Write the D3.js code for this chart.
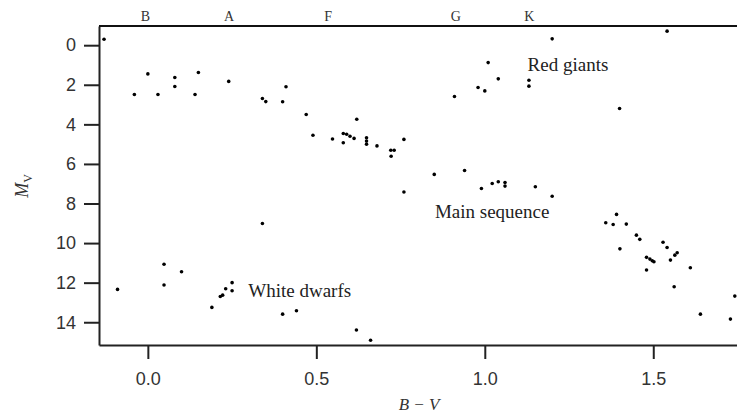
<!DOCTYPE html>
<html>
<head>
<meta charset="utf-8">
<script src="https://cdn.jsdelivr.net/npm/d3@7"></script>
<style>
	body { margin: 0; background: #fff; }
	svg { display: block; }
</style>
</head>
<body>
<div id="chart"></div>
<script>
// star colour index (B-V) and absolute magnitude (Mv)
const bvValues = [-0.13, 0.00, -0.04, 0.03, 0.08, 0.08, 0.15, 0.14, 0.24, 0.34,
	0.35, 0.40, 0.41, 0.47, 0.62, 0.49, 0.548, 0.58, 0.59, 0.60,
	0.612, 0.58, 0.649, 0.649, 0.649, 0.68, 0.721, 0.731, 0.722, 0.76,
	0.76, 0.85, 0.94, 0.99, 1.022, 1.04, 1.06, 1.06, 1.15, 1.20,
	0.91, 0.98, 1.00, 1.01, 1.04, 1.20, 1.131, 1.131, 1.541, 1.40,
	0.34, 1.391, 1.359, 1.381, 1.42, 1.401, 1.45, 1.46, 1.529, 1.541,
	1.571, 1.564, 1.551, 1.48, 1.49, 1.497, 1.502, 1.48, 1.61, 1.562,
	1.742, 1.64, 1.729,
	-0.09, 0.048, 0.048, 0.10, 0.19, 0.215, 0.222, 0.231, 0.25, 0.25,
	0.40, 0.441, 0.619, 0.661];
const mvValues = [-0.30, 1.45, 2.49, 2.49, 1.63, 2.09, 1.38, 2.49, 1.83, 2.69,
	2.85, 2.86, 2.10, 3.50, 3.74, 4.55, 4.74, 4.46, 4.50, 4.60,
	4.71, 4.93, 4.68, 4.84, 5.00, 5.09, 5.31, 5.31, 5.61, 4.76,
	7.42, 6.53, 6.33, 7.24, 6.99, 6.90, 6.94, 7.12, 7.15, 7.63,
	2.59, 2.14, 2.31, 0.88, 1.70, -0.32, 1.77, 2.07, -0.71, 3.20,
	9.01, 8.55, 8.97, 9.06, 9.04, 10.29, 9.60, 9.81, 9.96, 10.22,
	10.49, 10.61, 10.86, 10.72, 10.81, 10.89, 10.94, 11.36, 11.25, 12.21,
	12.68, 13.59, 13.84,
	12.34, 11.07, 12.12, 11.45, 13.25, 12.70, 12.63, 12.31, 12.00, 12.41,
	13.59, 13.42, 14.39, 14.91];

// spectral classes along the top
const spectralClasses = ["B", "A", "F", "G", "K"];
const spectralBv = [-0.007, 0.241, 0.535, 0.914, 1.132];

// region labels (left end of text, baseline) in data units
const regionNames = ["Red giants", "Main sequence", "White dwarfs"];
const regionBv = [1.127, 0.852, 0.298];
const regionMv = [1.30, 8.75, 12.74];

const xTicks = [0.0, 0.5, 1.0, 1.5];
const yTicks = [0, 2, 4, 6, 8, 10, 12, 14];

const width = 737, height = 415;
const plotLeft = 99, plotTop = 26, plotBottom = 345;

const svg = d3.select("#chart").append("svg").attr("width", width).attr("height", height);

const x = d3.scaleLinear().domain([-0.145, 1.75]).range([plotLeft, 737.5]);
const y = d3.scaleLinear().domain([-0.97, 15.15]).range([plotTop, plotBottom]);

// x axis
const xAxis = svg.append("g").attr("transform", "translate(0," + plotBottom + ")")
	.call(d3.axisBottom(x).tickValues(xTicks).tickFormat(d3.format(".1f")).tickSize(14).tickPadding(13).tickSizeOuter(0));
xAxis.selectAll("text").attr("font-family", "Liberation Sans, Arial, sans-serif").attr("font-size", 18).attr("fill", "#333");

// y axis
const yAxis = svg.append("g").attr("transform", "translate(" + plotLeft + ",0)")
	.call(d3.axisLeft(y).tickValues(yTicks).tickSize(15).tickPadding(8).tickSizeOuter(0));
yAxis.selectAll("text").attr("font-family", "Liberation Sans, Arial, sans-serif").attr("font-size", 18).attr("fill", "#333");

svg.selectAll(".domain, .tick line").attr("stroke", "#222").attr("stroke-width", 2);

// top frame line
svg.append("line").attr("x1", plotLeft).attr("x2", width).attr("y1", plotTop).attr("y2", plotTop)
	.attr("stroke", "#111").attr("stroke-width", 2);

// spectral class letters
svg.selectAll(".spec").data(spectralClasses).enter().append("text")
	.attr("class", "spec")
	.attr("x", (d, i) => x(spectralBv[i]))
	.attr("y", 20.5)
	.attr("text-anchor", "middle")
	.attr("font-family", "Liberation Serif, Times New Roman, serif")
	.attr("font-size", 14)
	.attr("fill", "#333")
	.text(d => d);

// stars
svg.selectAll(".star").data(bvValues).enter().append("circle")
	.attr("class", "star")
	.attr("cx", d => x(d))
	.attr("cy", (d, i) => y(mvValues[i]))
	.attr("r", 1.8)
	.attr("fill", "#000");

// region annotations
svg.selectAll(".region").data(regionNames).enter().append("text")
	.attr("class", "region")
	.attr("x", (d, i) => x(regionBv[i]))
	.attr("y", (d, i) => y(regionMv[i]))
	.attr("font-family", "Liberation Serif, Times New Roman, serif")
	.attr("font-size", 19)
	.attr("fill", "#222")
	.text(d => d);

// axis titles
svg.append("text")
	.attr("x", 419).attr("y", 410)
	.attr("text-anchor", "middle")
	.attr("font-family", "Liberation Serif, Times New Roman, serif")
	.attr("font-style", "italic")
	.attr("font-size", 17)
	.attr("fill", "#333")
	.text("B \u2212 V");

const yTitle = svg.append("text")
	.attr("transform", "translate(28,186) rotate(-90)")
	.attr("text-anchor", "middle")
	.attr("font-family", "Liberation Serif, Times New Roman, serif")
	.attr("font-size", 18)
	.attr("fill", "#333");
yTitle.append("tspan").attr("font-style", "italic").text("M");
yTitle.append("tspan").attr("font-size", 12).attr("dy", 4).text("V");
</script>
</body>
</html>
